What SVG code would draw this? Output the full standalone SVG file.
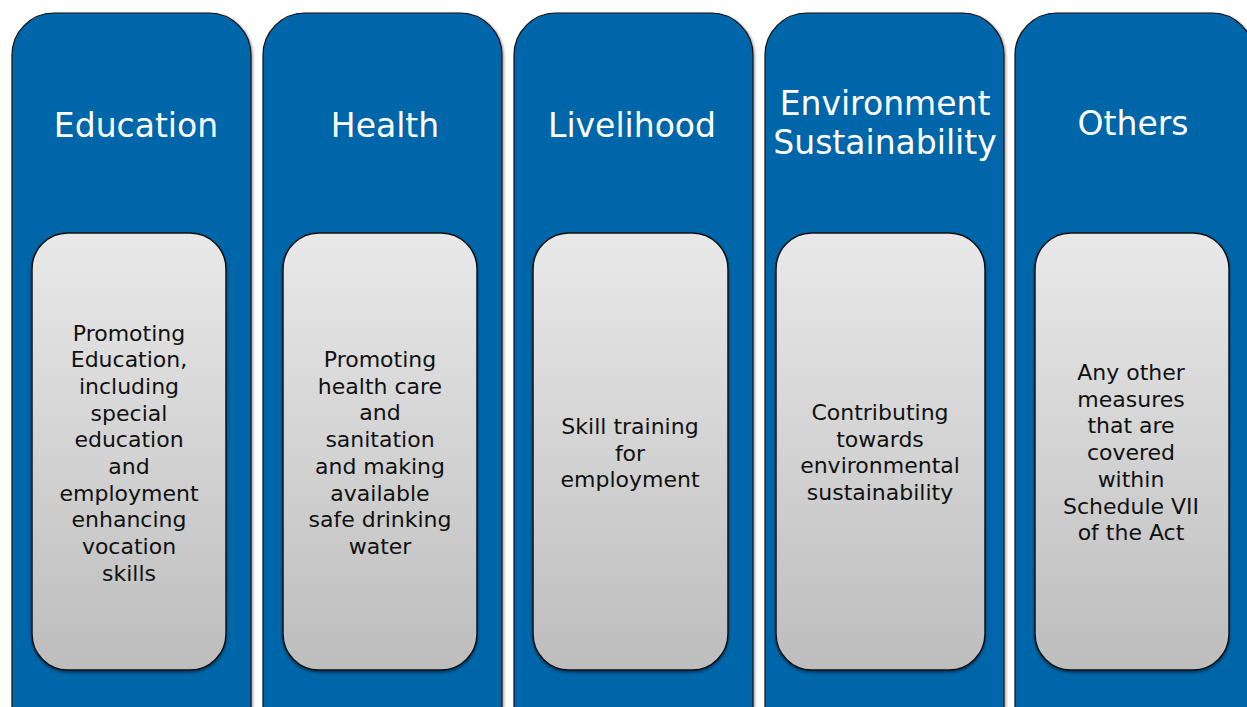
<svg xmlns="http://www.w3.org/2000/svg" width="1247" height="707" viewBox="0 0 1247 707">
<defs>
<linearGradient id="g" x1="0" y1="0" x2="0" y2="1">
<stop offset="0" stop-color="#e9e9e9"/>
<stop offset="1" stop-color="#bdbdbd"/>
</linearGradient>
<filter id="sh" x="-10%" y="-10%" width="120%" height="120%">
<feDropShadow dx="0" dy="2" stdDeviation="1.5" flood-color="#000" flood-opacity="0.45"/>
</filter>
<filter id="sh2" x="-10%" y="-10%" width="120%" height="120%">
<feDropShadow dx="1.5" dy="1" stdDeviation="1" flood-color="#000" flood-opacity="0.35"/>
</filter>
</defs>
<style>
.col{fill:#0066aa;stroke:#111;stroke-width:1.2}
.box{fill:url(#g);stroke:#111;stroke-width:1.5}
.t{font-family:"DejaVu Sans",Verdana,sans-serif;font-size:33px;fill:#fff;text-anchor:middle}
.b{font-family:"DejaVu Sans",Verdana,sans-serif;font-size:22px;fill:#111;text-anchor:middle}
</style>
<rect width="1247" height="707" fill="#fff"/>
<g id="education">
<rect class="col" x="12" y="13" width="239" height="760" rx="42" filter="url(#sh2)"/>
<text class="t" x="136" y="137">Education</text>
<rect class="box" x="32" y="233" width="194" height="437" rx="36" filter="url(#sh)"/>
<text class="b" x="129" y="340.5"><tspan x="129">Promoting</tspan><tspan x="129" dy="26.7">Education,</tspan><tspan x="129" dy="26.7">including</tspan><tspan x="129" dy="26.7">special</tspan><tspan x="129" dy="26.7">education</tspan><tspan x="129" dy="26.7">and</tspan><tspan x="129" dy="26.7">employment</tspan><tspan x="129" dy="26.7">enhancing</tspan><tspan x="129" dy="26.7">vocation</tspan><tspan x="129" dy="26.7">skills</tspan></text>
</g>
<g id="health">
<rect class="col" x="263" y="13" width="239" height="760" rx="42" filter="url(#sh2)"/>
<text class="t" x="385" y="137">Health</text>
<rect class="box" x="283" y="233" width="194" height="437" rx="36" filter="url(#sh)"/>
<text class="b" x="380" y="367"><tspan x="380">Promoting</tspan><tspan x="380" dy="26.7">health care</tspan><tspan x="380" dy="26.7">and</tspan><tspan x="380" dy="26.7">sanitation</tspan><tspan x="380" dy="26.7">and making</tspan><tspan x="380" dy="26.7">available</tspan><tspan x="380" dy="26.7">safe drinking</tspan><tspan x="380" dy="26.7">water</tspan></text>
</g>
<g id="livelihood">
<rect class="col" x="514" y="13" width="239" height="760" rx="42" filter="url(#sh2)"/>
<text class="t" x="632" y="137">Livelihood</text>
<rect class="box" x="533" y="233" width="195" height="437" rx="36" filter="url(#sh)"/>
<text class="b" x="630" y="434"><tspan x="630">Skill training</tspan><tspan x="630" dy="26.7">for</tspan><tspan x="630" dy="26.7">employment</tspan></text>
</g>
<g id="environment">
<rect class="col" x="765" y="13" width="239" height="760" rx="42" filter="url(#sh2)"/>
<text class="t" x="885" y="115">Environment</text>
<text class="t" x="885" y="154">Sustainability</text>
<rect class="box" x="776" y="233" width="209" height="437" rx="36" filter="url(#sh)"/>
<text class="b" x="880" y="420"><tspan x="880">Contributing</tspan><tspan x="880" dy="26.7">towards</tspan><tspan x="880" dy="26.7">environmental</tspan><tspan x="880" dy="26.7">sustainability</tspan></text>
</g>
<g id="others">
<rect class="col" x="1015" y="13" width="239" height="760" rx="42" filter="url(#sh2)"/>
<text class="t" x="1133" y="135">Others</text>
<rect class="box" x="1035" y="233" width="194" height="437" rx="36" filter="url(#sh)"/>
<text class="b" x="1131" y="380"><tspan x="1131">Any other</tspan><tspan x="1131" dy="26.7">measures</tspan><tspan x="1131" dy="26.7">that are</tspan><tspan x="1131" dy="26.7">covered</tspan><tspan x="1131" dy="26.7">within</tspan><tspan x="1131" dy="26.7">Schedule VII</tspan><tspan x="1131" dy="26.7">of the Act</tspan></text>
</g>
<g id="connectors"/>
</svg>
